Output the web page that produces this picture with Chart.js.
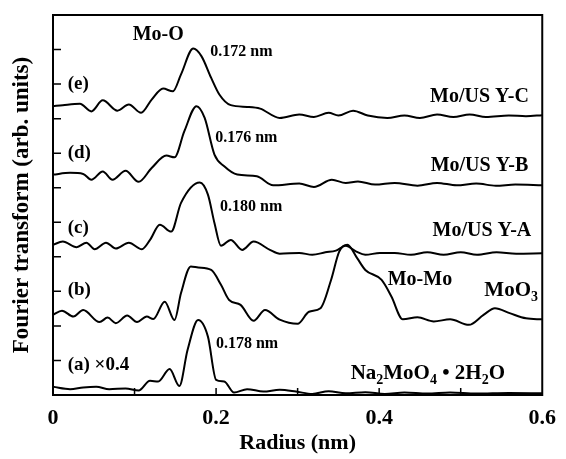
<!DOCTYPE html>
<html><head><meta charset="utf-8">
<script src="https://cdn.jsdelivr.net/npm/chart.js@4"></script>
<style>html,body{margin:0;padding:0;background:#fff}</style>
</head><body>
<canvas id="c" width="566" height="459"></canvas>
<script>
// ---- data (radius in nm, intensity in arbitrary stacked units) ----
const xTickLabels = ['0', '0.2', '0.4', '0.6'];

const rE = [0,0.012,0.033,0.047,0.061,0.079,0.093,0.108,0.121,0.135,0.147,0.157,0.172,0.182,0.194,0.204,0.218,0.238,0.254,0.278,0.302,0.320,0.338,0.350,0.368,0.386,0.410,0.431,0.450,0.471,0.491,0.511,0.531,0.559,0.580,0.600];
const vE = [8.36,8.39,8.43,8.21,8.53,8.23,8.41,8.17,8.55,8.87,8.79,9.28,10.03,9.81,9.18,8.70,8.39,8.34,8.29,8.02,8.12,8.05,8.17,8.09,8.23,8.09,8.02,8.09,8.02,8.12,8.05,8.12,8.05,8.09,8.07,8.10];

const rD = [0,0.021,0.037,0.047,0.061,0.073,0.089,0.105,0.121,0.139,0.149,0.161,0.176,0.186,0.198,0.210,0.226,0.250,0.270,0.302,0.320,0.342,0.359,0.374,0.395,0.419,0.447,0.471,0.495,0.519,0.543,0.567,0.600];
const vD = [6.38,6.43,6.40,6.23,6.47,6.23,6.49,6.17,6.57,6.93,6.88,7.63,8.36,8.02,6.96,6.62,6.38,6.33,6.07,6.12,6.02,6.23,6.14,6.18,6.09,6.14,6.06,6.14,6.07,6.12,6.06,6.09,6.07];

const rC = [0,0.012,0.029,0.041,0.051,0.065,0.077,0.093,0.109,0.119,0.131,0.145,0.157,0.180,0.190,0.198,0.206,0.218,0.232,0.246,0.266,0.278,0.302,0.318,0.334,0.347,0.359,0.372,0.383,0.401,0.419,0.439,0.459,0.479,0.500,0.520,0.544,0.568,0.600];
const vC = [4.35,4.44,4.28,4.41,4.22,4.41,4.24,4.41,4.22,4.49,4.93,4.73,5.56,6.15,5.80,4.98,4.32,4.49,4.20,4.44,4.20,4.09,4.11,4.06,4.13,4.18,4.32,4.15,4.06,4.11,4.11,4.06,4.13,4.06,4.13,4.06,4.13,4.09,4.10];

const rB = [0,0.011,0.025,0.037,0.057,0.067,0.077,0.091,0.103,0.115,0.123,0.137,0.149,0.157,0.169,0.178,0.194,0.206,0.216,0.230,0.246,0.260,0.278,0.300,0.314,0.328,0.341,0.351,0.361,0.373,0.383,0.403,0.415,0.429,0.447,0.467,0.487,0.510,0.528,0.542,0.560,0.580,0.600];
const vB = [2.32,2.44,2.27,2.46,2.11,2.24,2.08,2.30,2.11,2.27,2.20,2.70,2.17,2.95,3.72,3.69,3.62,3.19,2.75,2.61,2.15,2.46,2.18,2.06,2.41,2.51,3.33,4.15,4.35,3.96,3.62,3.33,2.85,2.19,2.25,2.13,2.19,2.03,2.32,2.51,2.37,2.22,2.19];

const rA = [0,0.021,0.037,0.053,0.069,0.089,0.105,0.119,0.129,0.143,0.155,0.165,0.178,0.190,0.200,0.210,0.222,0.238,0.258,0.278,0.298,0.318,0.338,0.359,0.383,0.407,0.431,0.459,0.487,0.519,0.559,0.600];
const vA = [0.24,0.17,0.22,0.24,0.17,0.19,0.13,0.41,0.39,0.75,0.26,1.30,2.17,1.69,0.44,0.39,0.07,0.17,0.10,0.15,0.10,0.03,0.11,0.05,0.08,0.03,0.07,0.04,0.07,0.04,0.06,0.05];

const series = [[rA, vA], [rB, vB], [rC, vC], [rD, vD], [rE, vE]];

// ---- annotation texts (segments: [text, isSubscript]) ----
const FONT = '"Liberation Serif", "Times New Roman", serif';
const notes = [
  {segs: [['Mo-O']], r: 0.129, v: 10.43, size: 20, align: 'center'},
  {segs: [['0.172 nm']], r: 0.231, v: 9.94, size: 16, align: 'center'},
  {segs: [['(e)']], r: 0.018, v: 9.01, size: 19, align: 'left'},
  {segs: [['0.176 nm']], r: 0.237, v: 7.45, size: 16, align: 'center'},
  {segs: [['(d)']], r: 0.018, v: 6.99, size: 19, align: 'left'},
  {segs: [['0.180 nm']], r: 0.243, v: 5.45, size: 16, align: 'center'},
  {segs: [['(c)']], r: 0.018, v: 4.84, size: 19, align: 'left'},
  {segs: [['(b)']], r: 0.018, v: 3.04, size: 19, align: 'left'},
  {segs: [['(a) ×0.4']], r: 0.018, v: 0.87, size: 19, align: 'left'},
  {segs: [['0.178 nm']], r: 0.238, v: 1.48, size: 16, align: 'center'},
  {segs: [['Mo/US Y-C']], r: 0.523, v: 8.64, size: 20, align: 'center'},
  {segs: [['Mo/US Y-B']], r: 0.523, v: 6.64, size: 20, align: 'center'},
  {segs: [['Mo/US Y-A']], r: 0.526, v: 4.75, size: 20, align: 'center'},
  {segs: [['Mo-Mo']], r: 0.450, v: 3.33, size: 20, align: 'center'},
  {segs: [['MoO'], ['3', true]], r: 0.529, v: 3.01, size: 21, align: 'left'},
  {segs: [['Na'], ['2', true], ['MoO'], ['4', true], [' • 2H'], ['2', true], ['O']], r: 0.365, v: 0.61, size: 21, align: 'left'}
];

function drawRich(ctx, segs, x, y, size, align) {
  const big = 'bold ' + size + 'px ' + FONT;
  const small = 'bold ' + Math.round(size * 0.65) + 'px ' + FONT;
  let w = 0;
  segs.forEach(s => { ctx.font = s[1] ? small : big; w += ctx.measureText(s[0]).width; });
  let cx = align === 'center' ? x - w / 2 : x;
  ctx.textAlign = 'left';
  ctx.textBaseline = 'middle';
  segs.forEach(s => {
    ctx.font = s[1] ? small : big;
    ctx.fillText(s[0], cx, s[1] ? y + size * 0.3 : y);
    cx += ctx.measureText(s[0]).width;
  });
}

const decor = {
  id: 'decor',
  afterDraw(chart) {
    const ctx = chart.ctx, a = chart.chartArea, xs = chart.scales.x, ys = chart.scales.y;
    ctx.save();
    ctx.strokeStyle = '#000';
    ctx.lineWidth = 2;
    ctx.strokeRect(a.left, a.top, a.right - a.left, a.bottom - a.top);
    ctx.lineWidth = 1.5;
    ctx.beginPath();
    xs.ticks.forEach(t => {
      const p = xs.getPixelForValue(t.value);
      if (p <= a.left + 1 || p >= a.right - 1) return;
      ctx.moveTo(p, a.bottom); ctx.lineTo(p, a.bottom - 7);
    });
    ys.ticks.forEach(t => {
      const p = ys.getPixelForValue(t.value);
      if (p >= a.bottom - 1 || p <= a.top + 1) return;
      ctx.moveTo(a.left, p); ctx.lineTo(a.left + 8, p);
    });
    ctx.stroke();
    ctx.fillStyle = '#000';
    notes.forEach(n => drawRich(ctx, n.segs, xs.getPixelForValue(n.r), ys.getPixelForValue(n.v), n.size, n.align));
    ctx.restore();
  }
};

const fontBold = size => ({family: FONT, size: size, weight: 'bold'});

new Chart(document.getElementById('c'), {
  type: 'line',
  data: {
    datasets: series.map(s => ({
      data: s[0].map((r, i) => ({x: r, y: s[1][i]})),
      borderColor: '#000', borderWidth: 2, pointRadius: 0, fill: false,
      cubicInterpolationMode: 'monotone'
    }))
  },
  options: {
    responsive: false, animation: false, events: [],
    layout: {padding: {top: 15, right: 16, left: 0, bottom: 0}},
    plugins: {legend: {display: false}, tooltip: {enabled: false}},
    scales: {
      x: {
        type: 'linear', min: 0, max: 0.6,
        afterFit: s => { s.height = 64; },
        grid: {display: false, drawTicks: false}, border: {display: false},
        ticks: {
          stepSize: 0.1, padding: 10, color: '#000', font: fontBold(22), autoSkip: false, maxRotation: 0,
          callback: v => { const k = Math.round(v * 10); return k % 2 === 0 ? xTickLabels[k / 2] : ''; }
        },
        title: {display: true, text: 'Radius (nm)', color: '#000', font: fontBold(22), padding: {top: 0, bottom: 2}}
      },
      y: {
        min: 0, max: 11,
        afterFit: s => { s.width = 53; },
        grid: {display: false, drawTicks: false}, border: {display: false},
        ticks: {display: false, stepSize: 1},
        title: {display: true, text: 'Fourier transform (arb. units)', color: '#000', font: fontBold(23), padding: {top: 8, bottom: 0}}
      }
    }
  },
  plugins: [decor]
});
</script>
</body></html>
